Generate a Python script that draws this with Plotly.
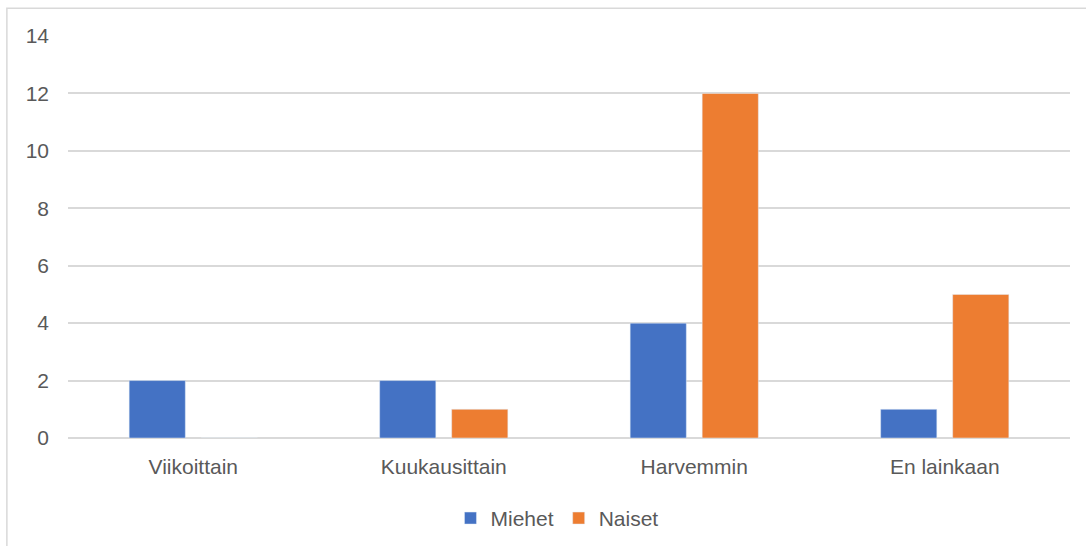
import plotly.graph_objects as go

categories = ["Viikoittain", "Kuukausittain", "Harvemmin", "En lainkaan"]
miehet = [2, 2, 4, 1]
naiset = [0, 1, 12, 5]
y_ticks = [0, 2, 4, 6, 8, 10, 12, 14]

FONT = "Liberation Sans"
TEXT = "#595959"
GRID = "#d9d9d9"

fig = go.Figure()
fig.add_trace(go.Bar(name="Miehet", x=categories, y=miehet, marker_color="#4472C4"))
fig.add_trace(go.Bar(name="Naiset", x=categories, y=naiset, marker_color="#ED7D31"))

fig.update_layout(
    width=1086,
    height=546,
    margin=dict(l=68, r=16, t=36, b=108, autoexpand=False),
    paper_bgcolor="white",
    plot_bgcolor="white",
    barmode="group",
    bargap=0.425,
    bargroupgap=0.22,
    font=dict(family=FONT, size=21, color=TEXT),
    legend=dict(
        orientation="h",
        x=0.488,
        xanchor="center",
        y=-0.2,
        yanchor="middle",
        font=dict(size=21, color=TEXT),
        itemwidth=30,
    ),
    shapes=[
        # chart frame: left and top edges, the rest runs past the page edge
        dict(
            type="rect",
            xref="paper",
            yref="paper",
            x0=-0.061,
            x1=1.05,
            y0=-0.35,
            y1=1.069,
            line=dict(color=GRID, width=1.5),
            fillcolor="rgba(0,0,0,0)",
            layer="below",
        )
    ],
)

fig.update_yaxes(
    range=[0, 14],
    tickvals=y_ticks,
    showgrid=True,
    gridcolor=GRID,
    gridwidth=1.5,
    zeroline=True,
    zerolinecolor=GRID,
    zerolinewidth=1.5,
    showline=False,
    ticklabelstandoff=18,
    tickfont=dict(size=21, color=TEXT),
)
fig.update_xaxes(
    showgrid=False,
    showline=False,
    ticks="",
    ticklabelstandoff=14,
    tickfont=dict(size=21, color=TEXT),
)

fig.write_html("out.html")
